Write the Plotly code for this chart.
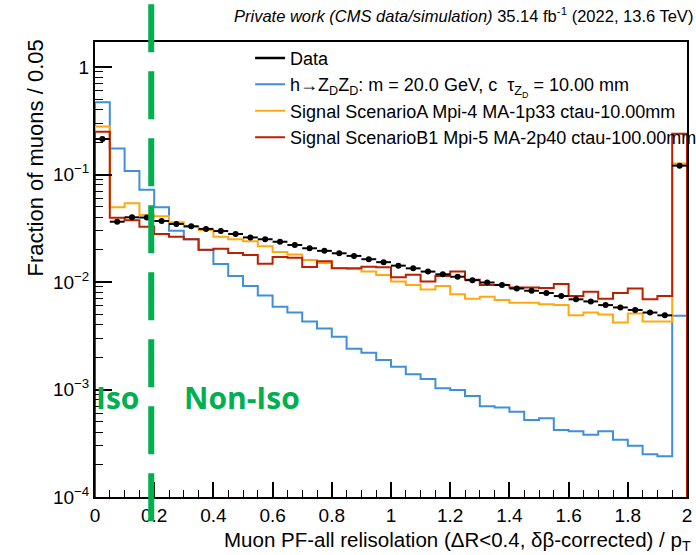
import numpy as np
import plotly.graph_objects as go

# ---------------- data (fraction of muons per 0.05 bin) ----------------
bin_width = 0.05
n_bins = 40
edges = np.linspace(0.0, 2.0, n_bins + 1)
centers = 0.5 * (edges[:-1] + edges[1:])

data_vals = [0.214, 0.0364, 0.040, 0.0398, 0.037, 0.0347, 0.033, 0.0312, 0.0298, 0.028,
             0.026, 0.025, 0.0237, 0.0221, 0.0206, 0.0195, 0.0185, 0.0175, 0.0163, 0.0153,
             0.0142, 0.0134, 0.0125, 0.0118, 0.0112, 0.0104, 0.0099, 0.0094, 0.0087, 0.0083,
             0.0079, 0.0074, 0.0069, 0.0066, 0.0061, 0.0058, 0.0055, 0.0052, 0.0049, 0.121]

hzdzd_vals = [0.47, 0.175, 0.108, 0.072, 0.0495, 0.030, 0.0250, 0.0199, 0.0147, 0.0114,
              0.0092, 0.0075, 0.0059, 0.0052, 0.0043, 0.0037, 0.0031, 0.0024, 0.0022, 0.00188,
              0.00163, 0.00139, 0.00125, 0.00103, 0.00099, 0.00087, 0.00070, 0.00068, 0.00062, 0.00052,
              0.00054, 0.00042, 0.00041, 0.00038, 0.00041, 0.00034, 0.00030, 0.00025, 0.00024, 0.00486]

scenA_vals = [0.28, 0.0495, 0.054, 0.042, 0.041, 0.036, 0.0326, 0.0305, 0.0264, 0.0250,
              0.0240, 0.0215, 0.0190, 0.0180, 0.0160, 0.0150, 0.0135, 0.0132, 0.0125, 0.0116,
              0.0101, 0.0094, 0.0085, 0.0092, 0.0077, 0.0070, 0.0073, 0.0068, 0.0064, 0.0064,
              0.0062, 0.0061, 0.0049, 0.0052, 0.0050, 0.0042, 0.0051, 0.0043, 0.0043, 0.127]

scenB1_vals = [0.25, 0.0397, 0.0376, 0.0326, 0.028, 0.0264, 0.025, 0.0200, 0.0204, 0.0186,
               0.0178, 0.0148, 0.0171, 0.0168, 0.0138, 0.0156, 0.0134, 0.0134, 0.0139, 0.0137,
               0.0111, 0.0117, 0.0101, 0.0114, 0.0125, 0.0105, 0.0094, 0.0094, 0.0089, 0.0089,
               0.0088, 0.0096, 0.0074, 0.0081, 0.0070, 0.0079, 0.0087, 0.0069, 0.0074, 0.24]

names = ["Data",
         "h\u2192Z<sub>D</sub>Z<sub>D</sub>: m = 20.0 GeV, c  \u03c4<sub>Z<sub>D</sub></sub> = 10.00 mm",
         "Signal ScenarioA Mpi-4 MA-1p33 ctau-10.00mm",
         "Signal ScenarioB1 Mpi-5 MA-2p40 ctau-100.00mm"]
colors = ["#000000", "#3f90da", "#ffa90e", "#bd1f01"]

x_ticks = [0, 0.2, 0.4, 0.6, 0.8, 1.0, 1.2, 1.4, 1.6, 1.8, 2.0]
x_ticktext = ["0", "0.2", "0.4", "0.6", "0.8", "1", "1.2", "1.4", "1.6", "1.8", "2"]
y_ticks = [1e-4, 1e-3, 1e-2, 1e-1, 1]
y_ticktext = ["10<sup>\u22124</sup>", "10<sup>\u22123</sup>", "10<sup>\u22122</sup>",
              "10<sup>\u22121</sup>", "1"]

iso_cut = 0.19
x_range = [0.0, 2.0]
y_range_log = [-4.0, 0.233]

FONT = "Liberation Sans, Arial, Helvetica, sans-serif"
GREEN = "#00b050"

fig = go.Figure()

FLOOR = 1e-7


def hist_trace(vals, name, color, rank):
    xs = [edges[0]] + list(edges[:-1]) + [edges[-1], edges[-1]]
    ys = [FLOOR] + list(vals) + [vals[-1], FLOOR]
    return go.Scatter(x=xs, y=ys, mode="lines", line=dict(color=color, width=2, shape="hv"),
                      name=name, legendrank=rank, hoverinfo="skip")


fig.add_trace(hist_trace(hzdzd_vals, names[1], colors[1], 2))
fig.add_trace(hist_trace(scenA_vals, names[2], colors[2], 3))
fig.add_trace(hist_trace(scenB1_vals, names[3], colors[3], 4))

# data points with horizontal bin-width bars
fig.add_trace(go.Scatter(
    x=centers, y=data_vals, mode="markers",
    marker=dict(color="black", size=6),
    error_x=dict(type="data", array=[bin_width / 2] * n_bins, color="black", thickness=2, width=0),
    showlegend=False, hoverinfo="skip"))
# legend entry for data (line style as in the reference)
fig.add_trace(go.Scatter(x=[None], y=[None], mode="lines", line=dict(color="black", width=2.5),
                         name=names[0], legendrank=1))

# minor ticks on the log axis
y_minor = [k * 10.0 ** e for e in range(-4, 1) for k in range(2, 10)]

fig.update_layout(
    width=696, height=555,
    margin=dict(l=95, r=9, t=42, b=58, autoexpand=False),
    paper_bgcolor="white", plot_bgcolor="white",
    font=dict(family=FONT, color="black", size=18),
    showlegend=True,
    legend=dict(x=0.262, y=1.005, xanchor="left", yanchor="top",
                bgcolor="rgba(0,0,0,0)", font=dict(size=18, family=FONT),
                tracegroupgap=0, itemwidth=30),
    xaxis=dict(range=x_range, tickvals=x_ticks, ticktext=x_ticktext,
               ticks="inside", ticklen=15, tickwidth=1.5, tickcolor="black",
               minor=dict(ticks="inside", ticklen=7, tickwidth=1.2, tickcolor="black", dtick=bin_width),
               showline=True, linecolor="black", linewidth=2, mirror=True,
               showgrid=False, zeroline=False, tickfont=dict(size=19)),
    yaxis=dict(type="log", range=y_range_log, tickvals=y_ticks, ticktext=y_ticktext,
               ticks="inside", ticklen=17, tickwidth=1.5, tickcolor="black",
               minor=dict(ticks="inside", ticklen=8, tickwidth=1.2, tickcolor="black", tickvals=y_minor),
               showline=True, linecolor="black", linewidth=2, mirror=True,
               showgrid=False, zeroline=False, tickfont=dict(size=19)),
)

# header
fig.add_annotation(xref="paper", yref="paper", x=1.013, y=1.0, yshift=27, xanchor="right", yanchor="middle",
                   text="<i>Private work (CMS data/simulation)</i> 35.14 fb<sup>-1</sup> (2022, 13.6 TeV)",
                   showarrow=False, font=dict(size=16.5, family=FONT))
# axis titles (ROOT style: right/top aligned)
fig.add_annotation(xref="paper", yref="paper", x=1.01, y=0, yshift=-44, xanchor="right", yanchor="middle",
                   text="Muon PF-all relisolation (\u0394R<0.4, \u03b4\u03b2-corrected) / p<sub>T</sub>",
                   showarrow=False, font=dict(size=20.5, family=FONT))
fig.add_annotation(xref="paper", yref="paper", x=0, xshift=-60, y=1.0, yshift=4, xanchor="center", yanchor="top",
                   text="Fraction of muons / 0.05", textangle=-90,
                   showarrow=False, font=dict(size=22, family=FONT))

# Iso / Non-Iso separation
cut_paper = (iso_cut - x_range[0]) / (x_range[1] - x_range[0])
fig.add_shape(type="line", xref="paper", yref="paper", x0=cut_paper, x1=cut_paper, y0=1.083, y1=-0.065,
              line=dict(color=GREEN, width=6, dash="48px,19px"))
fig.add_annotation(x=0.075, y=np.log10(8.5e-4), xref="x", yref="y", text="<b>Iso</b>", showarrow=False,
                   font=dict(size=30, color=GREEN, family="Open Sans"), xanchor="center", yanchor="middle")
fig.add_annotation(x=0.495, y=np.log10(8.5e-4), xref="x", yref="y", text="<b>Non-Iso</b>", showarrow=False,
                   font=dict(size=30, color=GREEN, family="Open Sans"), xanchor="center", yanchor="middle")

fig.write_html("out.html")
